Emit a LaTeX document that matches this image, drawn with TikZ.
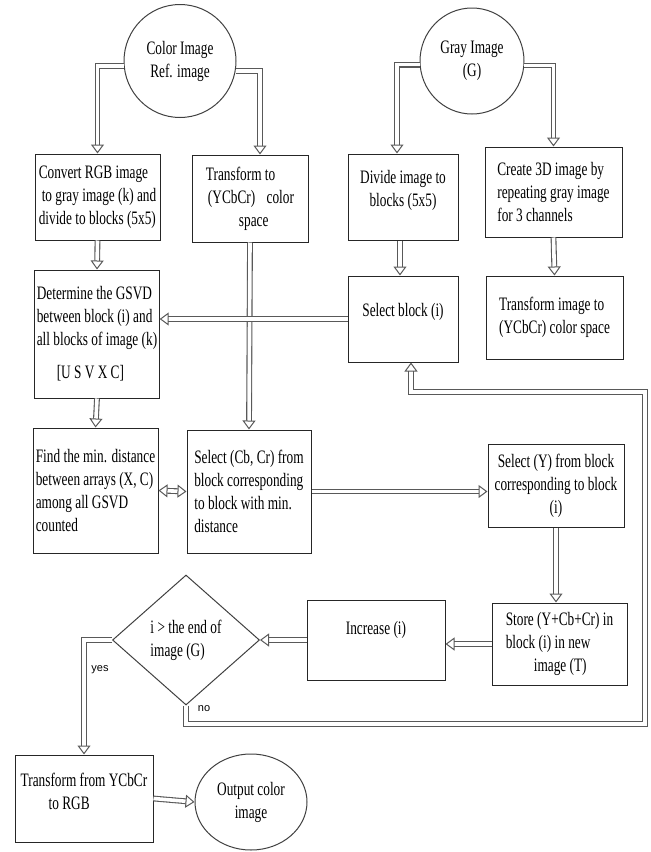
\documentclass[tikz,border=0pt]{standalone}
\usepackage{fontspec}
\setmainfont{Liberation Serif}[FakeStretch=0.7]
\newfontfamily\yesnofont{Liberation Sans}
\usetikzlibrary{arrows.meta,shapes.geometric,calc}
\begin{document}
\begin{tikzpicture}[x=1pt,y=-1pt,
  txt/.style={font=\fontsize{19}{23}\selectfont},
  box/.style={txt, draw=black!85, line width=1pt, inner sep=2pt, align=left},
  ell/.style={txt, ellipse, draw=black!75, line width=1pt, inner sep=0pt, align=center},
  dec/.style={txt, diamond, draw=black!75, line width=1pt, inner sep=0pt, align=left, aspect=1.13},
  tipx/.tip={Triangle[open, length=9pt, width=13pt, line width=1pt]},
  harrow/.style={draw=black!65, line width=1.1pt, double=white, double distance=3.6pt, -tipx},
  lab/.style={font=\yesnofont\fontsize{11}{13}\selectfont, inner sep=0pt}
]
\useasboundingbox (0,0) rectangle (651,852);

% start nodes
\node[ell, minimum width=112pt, minimum height=113pt] (cimg) at (180,61) {Color Image\\Ref. image};
\node[ell, minimum width=104pt, minimum height=106pt] (gimg) at (472,61) {Gray Image\\(G)};

% boxes
\node[box, minimum width=125pt, minimum height=86pt] (b1) at (97.5,197) {Convert RGB image\\\hspace*{3pt}to gray image (k) and\\divide to blocks (5x5)};
\node[box, minimum width=116pt, minimum height=87pt] (b2) at (250,198.5) {Transform to\\\hspace*{2pt}(YCbCr)\hspace{0.6em}color\\\hspace*{33pt}space};
\node[box, align=center, text depth=17pt, minimum width=110pt, minimum height=86pt] (b3) at (403,197) {Divide image to\\blocks (5x5)};
\node[box, minimum width=137pt, minimum height=90pt] (b4) at (553.5,192) {Create 3D image by\\repeating gray image\\for 3 channels};
\node[box, minimum width=124pt, minimum height=128pt] (b5) at (97,334) {Determine the GSVD\\between block (i) and\\all blocks of image (k)\\[10pt]\hspace*{20pt}[U S V X C]};
\node[box, text depth=18pt, minimum width=110pt, minimum height=86pt] (b6) at (403,319) {Select block (i)};
\node[box, minimum width=137pt, minimum height=83pt] (b7) at (554.5,317.5) {Transform image to\\(YCbCr) color space};
\node[box, minimum width=125pt, minimum height=125pt] (b8) at (95.5,490.5) {Find the min. distance\\between arrays (X, C)\\among all GSVD\\counted};
\node[box, minimum width=124pt, minimum height=123pt] (b9) at (249,491.5) {Select (Cb, Cr) from\\block corresponding\\to block with min.\\distance};
\node[box, align=center, minimum width=136pt, minimum height=83pt] (b10) at (556,485.5) {Select (Y) from block\\corresponding to block\\(i)};
\node[box, minimum width=135pt, minimum height=82pt] (b11) at (559.5,644) {Store (Y+Cb+Cr) in\\block (i) in new\\\hspace*{28pt}image (T)};
\node[box, text depth=24pt, minimum width=138pt, minimum height=80pt] (b12) at (376,640) {Increase (i)};
\node[dec, minimum width=147pt, minimum height=130pt] (dia) at (186,640) {i > the end of\\image (G)};
\node[box, text depth=14pt, minimum width=138pt, minimum height=87pt] (b13) at (84,798.5) {Transform from YCbCr\\\hspace*{28pt}to RGB};
\node[ell, minimum width=112pt, minimum height=96pt] (out) at (251,802) {Output color\\image};

% loop corner coordinates
\coordinate (loopR) at (645,724);
\coordinate (loopT) at (645,392);

% connectors
\draw[harrow] (cimg.185) -| (b1.north);
\draw[harrow] (cimg.-10) -| ([xshift=10pt]b2.north);
\draw[harrow] (gimg.184) -| ([xshift=-6pt]b3.north);
\draw[harrow] (gimg.-5) -| (b4.north);
\draw[harrow] (b1.south) -- (b5.north);
\draw[harrow] (b2.south) -- (b9.north);
\draw[harrow] ([xshift=-3pt]b3.south) -- ([xshift=-3pt]b6.north);
\draw[harrow] (b4.south) -- (b7.north);
\draw[harrow] (b6.west) -- (b5.east |- b6.west);
\draw[harrow] (b5.south) -- (b8.north);
\draw[harrow, tipx-tipx] (b8.east) -- (b9.west);
\draw[harrow] (b9.east) -- (b10.west |- b9.east);
\draw[harrow] (b10.south) -- (b10.south |- b11.north);
\draw[harrow] (b11.west) -- (b12.east |- b11.west);
\draw[harrow] (b12.west) -- (dia.east);
\draw[harrow] (dia.west) -| (b13.north);
\draw[harrow] (dia.south) |- (loopR) -- (loopT) -| ([xshift=8pt]b6.south);
\draw[harrow] (b13.east) -- (out.west);

% labels
\node[lab] (yes) at (100,670) {yes};
\node[lab] (no) at (204,709) {no};
\end{tikzpicture}
\end{document}
